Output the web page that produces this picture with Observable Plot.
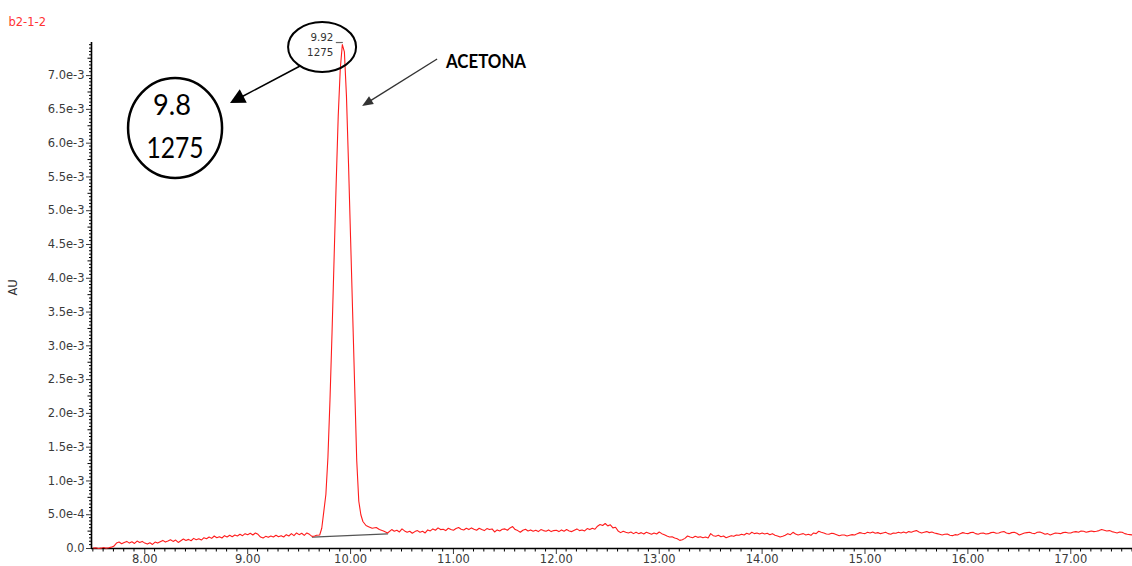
<!DOCTYPE html>
<html>
<head>
<meta charset="utf-8">
<script src="https://cdn.jsdelivr.net/npm/d3@7"></script>
<script src="https://cdn.jsdelivr.net/npm/@observablehq/plot@0.6"></script>
<style>
  html, body { margin: 0; padding: 0; background: #fff; }
  #chart svg { display: block; }
</style>
</head>
<body>
<div id="chart"></div>
<script>
// Chromatogram b2-1-2: absorbance (AU) against retention time (min)
const runName = "b2-1-2";
const yLabel = "AU";

// Detector sampling interval (min) for the regular stretches of the trace
const sampleStep = 0.025;

// Absorbance before the peak, in units of 1e-4 AU, sampled from 7.50 min
const preStart = 7.50;
const preValues = [
  0.05, 0.1, 0.0, 0.05, 0.15, 0.05, 0.1, 0.2, 0.35, 0.8, 0.95, 0.7, 0.9, 1.05, 0.8, 1.0,
  0.75, 1.1, 0.9, 1.05, 0.8, 0.65, 0.85, 0.6, 0.95, 0.8, 1.0, 1.2, 0.95, 1.1, 1.3, 1.05,
  1.25, 0.9, 1.15, 1.4, 1.2, 1.35, 1.15, 1.5, 1.3, 1.45, 1.25, 1.6, 1.45, 1.7, 1.5, 1.85,
  1.6, 1.75, 1.55, 1.9, 1.7, 1.95, 1.75, 2.0, 1.85, 2.1, 1.9, 2.2, 2.05, 2.25, 2.0, 2.3,
  2.1, 1.7, 1.55, 1.8, 1.65, 1.85, 1.7, 1.95, 1.75, 1.9, 1.7, 2.05, 1.85, 2.2, 1.9, 2.3,
  2.05, 2.25, 1.95, 2.3, 2.1, 1.8
];

// Acetone peak: [retention time (min), absorbance in 1e-4 AU]
const peakSamples = [
  [9.65,1.85],[9.67,1.95],[9.70,2.0],[9.72,3.0],[9.74,5.5],[9.76,8.0],[9.78,13.5],[9.80,22],
  [9.82,32],[9.84,43],[9.86,54],[9.88,64],[9.90,71],[9.92,74.6],[9.94,73.5],[9.96,67],
  [9.98,57],[10.00,46],[10.02,35],[10.04,24],[10.06,13],[10.08,7.0],[10.10,5.0],[10.12,4.0],
  [10.15,3.4],[10.18,3.2],[10.21,3.0],[10.25,3.1],[10.28,2.8],[10.32,2.6],[10.36,2.3]
];

// Absorbance after the peak, in units of 1e-4 AU, sampled from 10.40 min
const postStart = 10.40;
const postValues = [
  2.8, 2.55, 2.7, 2.45, 2.9, 2.6, 2.4, 2.55,
  2.25, 2.5, 2.65, 2.4, 2.55, 2.3, 2.75, 2.6,
  2.9, 2.7, 3.05, 2.8, 2.85, 2.65, 3.0, 2.8,
  2.7, 2.95, 3.1, 2.85, 2.75, 3.0, 2.8, 3.05,
  2.85, 2.7, 3.0, 2.8, 2.65, 2.95, 2.8, 2.9,
  2.45, 2.75, 2.6, 2.85, 2.9, 2.7, 3.05, 3.25,
  2.8, 2.65, 2.4, 2.7, 2.85, 2.6, 2.75, 2.55,
  2.7, 2.5, 2.8, 2.65, 2.55, 2.75, 2.5, 2.65,
  2.7, 2.5, 2.75, 2.55, 2.8, 2.6, 2.5, 2.7,
  2.9, 2.65, 2.75, 2.6, 2.95, 2.8, 3.0, 2.85,
  3.3, 3.55, 3.4, 3.7, 3.35, 3.5, 3.05, 3.15,
  2.6, 2.35, 2.55, 2.4, 2.3, 2.45, 2.2, 2.4,
  2.2, 2.35, 2.15, 2.4, 2.25, 2.1, 2.3, 2.15,
  2.45, 2.2, 2.05, 1.85, 1.7, 1.75, 1.55, 1.45,
  1.2, 1.3, 1.5, 1.85, 1.7, 1.6, 1.8, 1.65,
  1.75, 1.6, 1.7, 1.55, 2.2, 1.9, 1.8, 1.95,
  1.75, 1.85, 1.6, 1.75, 1.9, 1.8, 2.0, 1.95,
  2.1, 2.0, 2.25, 2.1, 2.4, 2.2, 2.3, 2.15,
  2.3, 2.15, 2.25, 2.05, 2.2, 1.95, 1.85, 1.7,
  1.8, 1.95, 2.2, 2.05, 2.4, 2.15, 2.0, 2.1,
  2.2, 2.0, 2.1, 1.95, 2.3, 2.2, 2.55, 2.4,
  2.3, 2.15, 2.1, 2.25, 2.2, 2.05, 1.9, 2.0,
  2.0, 1.85, 1.95, 2.05, 2.0, 2.2, 2.35, 2.25,
  2.2, 2.4, 2.3, 2.45, 2.25, 2.35, 2.2, 2.3,
  2.4, 2.2, 2.1, 2.3, 2.25, 2.4, 2.3, 2.45,
  2.3, 2.5, 2.4, 2.55, 2.65, 2.45, 2.3, 2.4,
  2.5, 2.35, 2.45, 2.3, 2.2, 2.1, 2.0, 2.1,
  2.15, 1.95, 1.9, 2.05, 2.0, 2.2, 2.35, 2.25,
  2.2, 2.35, 2.4, 2.2, 2.1, 2.25, 2.3, 2.15,
  2.2, 2.35, 2.4, 2.25, 2.3, 2.45, 2.5, 2.3,
  2.2, 2.35, 2.4, 2.25, 2.0, 2.15, 2.3, 2.35,
  2.4, 2.25, 2.2, 2.4, 2.45, 2.3, 2.1, 2.2,
  2.0, 2.15, 2.3, 2.25, 2.2, 2.35, 2.4, 2.3,
  2.3, 2.45, 2.5, 2.4, 2.6, 2.55, 2.4, 2.5,
  2.6, 2.5, 2.55, 2.65, 2.8, 2.7, 2.6, 2.65,
  2.5, 2.4, 2.3, 2.45, 2.4, 2.2, 2.1, 2.05,
  2.0
];

// Integration baseline drawn under the peak: [time, 1e-4 AU]
const integrationBaseline = [[9.63, 1.67], [10.36, 2.17]];

// Peak label: retention time and area
const peakTime = 9.92;
const peakArea = 1275;

// Axis ticks
const xMajorTicks = [8, 9, 10, 11, 12, 13, 14, 15, 16, 17];
const yMajorTicks = [0, 5e-4, 1e-3, 1.5e-3, 2e-3, 2.5e-3, 3e-3, 3.5e-3, 4e-3, 4.5e-3, 5e-3, 5.5e-3, 6e-3, 6.5e-3, 7e-3];
const xDomain = [7.482, 17.60];
const yDomain = [0, 7.49e-3];

// Hand-drawn callouts (anchors in time / AU)
const calloutText = ["9.8", "1275"];
const calloutCircle = {t: 8.299, au: 6.217e-3};
const peakEllipse = {t: 9.728, au: 7.416e-3};
const arrows = [
  {from: [9.514, 7.135e-3], to: [8.833, 6.587e-3], head: 15, half: 7.5, width: 1.5, color: "#000"},
  {from: [10.846, 7.238e-3], to: [10.117, 6.543e-3], head: 11, half: 4.5, width: 1.3, color: "#333"}
];
const compoundName = "ACETONA";
const compoundLabelAt = {t: 10.933, au: 7.223e-3};

// Assemble the trace in AU
const data = [
  ...preValues.map((v, i) => ({t: preStart + i * sampleStep, au: v * 1e-4})),
  ...peakSamples.map(([t, v]) => ({t, au: v * 1e-4})),
  ...postValues.map((v, i) => ({t: postStart + i * sampleStep, au: v * 1e-4}))
];
const baseline = integrationBaseline.map(([t, v]) => ({t, au: v * 1e-4}));
const apex = data.find(d => d.t === peakTime);

const fmtY = d => d === 0 ? "0.0" : d3.format(".1e")(d);
const minorY = d3.range(0, 150).map(i => i * 5e-5).filter(v => v <= yDomain[1] && (Math.round(v / 5e-5) % 5) !== 0);
const mediumY = d3.range(0, 15).map(i => 2.5e-4 + i * 5e-4).filter(v => v <= yDomain[1]);
const minorX = d3.range(75, 177).map(i => i / 10).filter(v => v >= xDomain[0] && v <= xDomain[1] && (Math.round(v * 10) % 10) !== 0);

const smallFont = "DejaVu Sans, Liberation Sans, sans-serif";
const red = "#ff1c1c";

const chart = Plot.plot({
  width: 1132,
  height: 566,
  marginLeft: 91,
  marginRight: 0,
  marginTop: 42,
  marginBottom: 18,
  x: {domain: xDomain, ticks: xMajorTicks, tickFormat: d => d.toFixed(2), tickSize: 6, tickPadding: 0.5, label: null},
  y: {domain: yDomain, ticks: yMajorTicks, tickFormat: fmtY, tickSize: 5, tickPadding: 2, label: null},
  style: {fontFamily: smallFont, fontSize: "11.5px", color: "#3a3a3a", background: "#fff"},
  marks: [
    Plot.ruleX([xDomain[0]], {stroke: "#000", strokeWidth: 1.6}),
    Plot.ruleY([0], {stroke: "#000", strokeWidth: 1.5}),
    Plot.line(baseline, {x: "t", y: "au", stroke: "#555", strokeWidth: 1.3}),
    Plot.line(data, {x: "t", y: "au", stroke: red, strokeWidth: 1.1}),
    Plot.text([apex], {x: "t", y: "au", text: () => peakTime.toFixed(2), textAnchor: "end", dx: -9, dy: -7, fontSize: 10.3, fill: "#333"}),
    Plot.text([apex], {x: "t", y: "au", text: () => String(peakArea), textAnchor: "end", dx: -9, dy: 8, fontSize: 10.3, fill: "#333"}),
    Plot.text([runName], {frameAnchor: "top-left", dx: -83, dy: -25, textAnchor: "start", fill: "#ff3333", fontSize: 11.5}),
    Plot.text([yLabel], {frameAnchor: "left", dx: -78, rotate: -90, fill: "#333", fontSize: 11.5})
  ]
});

document.getElementById("chart").appendChild(chart);

// Minor ticks and callout shapes, placed through the plot's own scales
const scaleOf = name => {
  const s = chart.scale(name);
  return s.apply ? v => s.apply(v) : d3.scaleLinear(s.domain, s.range);
};
const X = scaleOf("x"), Y = scaleOf("y");
const g = d3.select(chart).append("g").attr("text-anchor", "start");
const x0 = X(xDomain[0]), y0 = Y(0);

for (const v of minorY) {
  g.append("line").attr("x1", x0 - 2).attr("x2", x0).attr("y1", Y(v)).attr("y2", Y(v)).attr("stroke", "#000");
}
for (const v of mediumY) {
  g.append("line").attr("x1", x0 - 3.5).attr("x2", x0).attr("y1", Y(v)).attr("y2", Y(v)).attr("stroke", "#000");
}
for (const v of minorX) {
  g.append("line").attr("x1", X(v)).attr("x2", X(v)).attr("y1", y0).attr("y2", y0 + 3.5).attr("stroke", "#000");
}

// dash next to the apex
g.append("line")
  .attr("x1", X(apex.t) - 6).attr("x2", X(apex.t) + 1)
  .attr("y1", Y(apex.au) - 1.5).attr("y2", Y(apex.au) - 1.5)
  .attr("stroke", "#666").attr("stroke-width", 1.2);

g.append("ellipse")
  .attr("cx", X(peakEllipse.t)).attr("cy", Y(peakEllipse.au))
  .attr("rx", 34).attr("ry", 25)
  .attr("fill", "none").attr("stroke", "#000").attr("stroke-width", 2);

g.append("ellipse")
  .attr("cx", X(calloutCircle.t)).attr("cy", Y(calloutCircle.au))
  .attr("rx", 47).attr("ry", 50)
  .attr("fill", "none").attr("stroke", "#000").attr("stroke-width", 2.5);

const bigFont = "Lato, 'Open Sans', sans-serif";
const calloutWidths = [38, 57];
calloutText.forEach((s, i) => {
  g.append("text")
    .attr("x", X(calloutCircle.t) - (i === 0 ? 3 : 0))
    .attr("y", Y(calloutCircle.au) + (i === 0 ? -24 : 19))
    .attr("text-anchor", "middle").attr("dominant-baseline", "central")
    .attr("font-family", bigFont).attr("font-size", 29).attr("fill", "#000")
    .attr("textLength", calloutWidths[i]).attr("lengthAdjust", "spacingAndGlyphs")
    .text(s);
});

for (const a of arrows) {
  const x1 = X(a.from[0]), y1 = Y(a.from[1]);
  const x2 = X(a.to[0]), y2 = Y(a.to[1]);
  const len = Math.hypot(x2 - x1, y2 - y1);
  const ux = (x2 - x1) / len, uy = (y2 - y1) / len;
  const bx = x2 - ux * a.head, by = y2 - uy * a.head;
  const nx = -uy, ny = ux;
  g.append("line")
    .attr("x1", x1).attr("y1", y1).attr("x2", bx + ux).attr("y2", by + uy)
    .attr("stroke", a.color).attr("stroke-width", a.width);
  g.append("path")
    .attr("d", `M${x2},${y2}L${bx + nx * a.half},${by + ny * a.half}L${bx - nx * a.half},${by - ny * a.half}Z`)
    .attr("fill", a.color);
}

g.append("text")
  .attr("x", X(compoundLabelAt.t)).attr("y", Y(compoundLabelAt.au))
  .attr("text-anchor", "start").attr("dominant-baseline", "central")
  .attr("font-family", bigFont).attr("font-weight", "bold").attr("font-size", 19.5).attr("fill", "#000")
  .attr("textLength", 80).attr("lengthAdjust", "spacingAndGlyphs")
  .text(compoundName);
</script>
</body>
</html>
